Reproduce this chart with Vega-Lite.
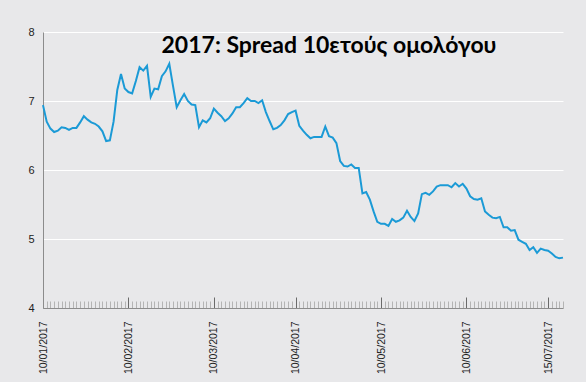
{
  "$schema": "https://vega.github.io/schema/vega-lite/v6.json",
  "autosize": {"type": "none"},
  "width": 520,
  "height": 276,
  "padding": {"left": 43, "top": 32, "right": 23, "bottom": 74},
  "background": "#e8e8ea",
  "title": {
    "text": "2017: Spread 10ετούς ομολόγου",
    "anchor": "middle",
    "frame": "group",
    "dx": 26,
    "dy": 27,
    "offset": -23,
    "baseline": "alphabetic",
    "font": "Lato",
    "fontSize": 23,
    "fontWeight": 700,
    "color": "#000000"
  },
  "config": {"view": {"stroke": null}},
  "data": {
    "values": [
      {"d": "10/01/2017", "v": 6.94}, {"d": "11/01/2017", "v": 6.70}, {"d": "12/01/2017", "v": 6.60}, {"d": "13/01/2017", "v": 6.55},
      {"d": "16/01/2017", "v": 6.57}, {"d": "17/01/2017", "v": 6.62}, {"d": "18/01/2017", "v": 6.61}, {"d": "19/01/2017", "v": 6.58},
      {"d": "20/01/2017", "v": 6.61}, {"d": "23/01/2017", "v": 6.61}, {"d": "24/01/2017", "v": 6.69}, {"d": "25/01/2017", "v": 6.78},
      {"d": "26/01/2017", "v": 6.73}, {"d": "27/01/2017", "v": 6.69}, {"d": "30/01/2017", "v": 6.67}, {"d": "31/01/2017", "v": 6.63},
      {"d": "01/02/2017", "v": 6.56}, {"d": "02/02/2017", "v": 6.42}, {"d": "03/02/2017", "v": 6.43}, {"d": "06/02/2017", "v": 6.70},
      {"d": "07/02/2017", "v": 7.16}, {"d": "08/02/2017", "v": 7.39}, {"d": "09/02/2017", "v": 7.18}, {"d": "10/02/2017", "v": 7.13},
      {"d": "13/02/2017", "v": 7.11}, {"d": "14/02/2017", "v": 7.29}, {"d": "15/02/2017", "v": 7.49}, {"d": "16/02/2017", "v": 7.44},
      {"d": "17/02/2017", "v": 7.51}, {"d": "18/02/2017", "v": 7.06}, {"d": "20/02/2017", "v": 7.18}, {"d": "21/02/2017", "v": 7.17},
      {"d": "22/02/2017", "v": 7.36}, {"d": "23/02/2017", "v": 7.43}, {"d": "24/02/2017", "v": 7.54}, {"d": "25/02/2017", "v": 7.22},
      {"d": "27/02/2017", "v": 6.91}, {"d": "28/02/2017", "v": 7.01}, {"d": "01/03/2017", "v": 7.10}, {"d": "02/03/2017", "v": 7.00},
      {"d": "03/03/2017", "v": 6.95}, {"d": "04/03/2017", "v": 6.94}, {"d": "06/03/2017", "v": 6.62}, {"d": "07/03/2017", "v": 6.72},
      {"d": "08/03/2017", "v": 6.69}, {"d": "09/03/2017", "v": 6.75}, {"d": "10/03/2017", "v": 6.89}, {"d": "13/03/2017", "v": 6.83},
      {"d": "14/03/2017", "v": 6.78}, {"d": "15/03/2017", "v": 6.71}, {"d": "16/03/2017", "v": 6.75}, {"d": "17/03/2017", "v": 6.82},
      {"d": "18/03/2017", "v": 6.91}, {"d": "20/03/2017", "v": 6.91}, {"d": "21/03/2017", "v": 6.97}, {"d": "22/03/2017", "v": 7.04},
      {"d": "23/03/2017", "v": 7.00}, {"d": "24/03/2017", "v": 7.00}, {"d": "27/03/2017", "v": 6.97}, {"d": "28/03/2017", "v": 7.01},
      {"d": "29/03/2017", "v": 6.84}, {"d": "30/03/2017", "v": 6.71}, {"d": "31/03/2017", "v": 6.59}, {"d": "03/04/2017", "v": 6.61},
      {"d": "04/04/2017", "v": 6.65}, {"d": "05/04/2017", "v": 6.72}, {"d": "06/04/2017", "v": 6.81}, {"d": "07/04/2017", "v": 6.84},
      {"d": "10/04/2017", "v": 6.86}, {"d": "11/04/2017", "v": 6.64}, {"d": "12/04/2017", "v": 6.57}, {"d": "13/04/2017", "v": 6.51},
      {"d": "14/04/2017", "v": 6.46}, {"d": "17/04/2017", "v": 6.48}, {"d": "18/04/2017", "v": 6.48}, {"d": "19/04/2017", "v": 6.48},
      {"d": "20/04/2017", "v": 6.63}, {"d": "21/04/2017", "v": 6.49}, {"d": "22/04/2017", "v": 6.47}, {"d": "24/04/2017", "v": 6.39},
      {"d": "25/04/2017", "v": 6.13}, {"d": "26/04/2017", "v": 6.06}, {"d": "27/04/2017", "v": 6.05}, {"d": "28/04/2017", "v": 6.08},
      {"d": "02/05/2017", "v": 6.03}, {"d": "03/05/2017", "v": 6.03}, {"d": "04/05/2017", "v": 5.66}, {"d": "05/05/2017", "v": 5.68},
      {"d": "06/05/2017", "v": 5.57}, {"d": "08/05/2017", "v": 5.40}, {"d": "09/05/2017", "v": 5.25}, {"d": "10/05/2017", "v": 5.22},
      {"d": "11/05/2017", "v": 5.22}, {"d": "12/05/2017", "v": 5.19}, {"d": "15/05/2017", "v": 5.29}, {"d": "16/05/2017", "v": 5.25},
      {"d": "17/05/2017", "v": 5.27}, {"d": "18/05/2017", "v": 5.31}, {"d": "19/05/2017", "v": 5.41}, {"d": "22/05/2017", "v": 5.32},
      {"d": "23/05/2017", "v": 5.26}, {"d": "24/05/2017", "v": 5.37}, {"d": "25/05/2017", "v": 5.65}, {"d": "26/05/2017", "v": 5.67},
      {"d": "29/05/2017", "v": 5.64}, {"d": "30/05/2017", "v": 5.69}, {"d": "31/05/2017", "v": 5.76}, {"d": "01/06/2017", "v": 5.78},
      {"d": "02/06/2017", "v": 5.78}, {"d": "05/06/2017", "v": 5.78}, {"d": "06/06/2017", "v": 5.75}, {"d": "07/06/2017", "v": 5.81},
      {"d": "08/06/2017", "v": 5.76}, {"d": "09/06/2017", "v": 5.80}, {"d": "10/06/2017", "v": 5.73}, {"d": "13/06/2017", "v": 5.62},
      {"d": "14/06/2017", "v": 5.58}, {"d": "15/06/2017", "v": 5.57}, {"d": "16/06/2017", "v": 5.59}, {"d": "19/06/2017", "v": 5.40},
      {"d": "20/06/2017", "v": 5.35}, {"d": "21/06/2017", "v": 5.31}, {"d": "22/06/2017", "v": 5.30}, {"d": "23/06/2017", "v": 5.32},
      {"d": "26/06/2017", "v": 5.17}, {"d": "27/06/2017", "v": 5.17}, {"d": "28/06/2017", "v": 5.12}, {"d": "29/06/2017", "v": 5.13},
      {"d": "30/06/2017", "v": 4.99}, {"d": "03/07/2017", "v": 4.96}, {"d": "04/07/2017", "v": 4.93}, {"d": "05/07/2017", "v": 4.84},
      {"d": "06/07/2017", "v": 4.88}, {"d": "10/07/2017", "v": 4.80}, {"d": "11/07/2017", "v": 4.86}, {"d": "12/07/2017", "v": 4.84},
      {"d": "15/07/2017", "v": 4.83}, {"d": "17/07/2017", "v": 4.79}, {"d": "18/07/2017", "v": 4.74}, {"d": "19/07/2017", "v": 4.72},
      {"d": "20/07/2017", "v": 4.73}
    ]
  },
  "mark": {"type": "line", "color": "#1b9ad6", "strokeWidth": 2},
  "encoding": {
    "x": {
      "field": "d",
      "type": "ordinal",
      "sort": null,
      "scale": {"type": "point", "padding": 0},
      "axis": {
        "title": null,
        "grid": false,
        "labelAngle": -90,
        "labelOverlap": false,
        "labelBound": false,
        "labelExpr": "indexof(['10/01/2017','10/02/2017','10/03/2017','10/04/2017','10/05/2017','10/06/2017','15/07/2017'], datum.value) >= 0 ? datum.value : ''",
        "tickSize": {"condition": {"test": "indexof(['10/01/2017','10/02/2017','10/03/2017','10/04/2017','10/05/2017','10/06/2017','15/07/2017'], datum.value) >= 0", "value": -11}, "value": -7},
        "tickColor": {"condition": {"test": "indexof(['10/01/2017','10/02/2017','10/03/2017','10/04/2017','10/05/2017','10/06/2017','15/07/2017'], datum.value) >= 0", "value": "#6a6a6a"}, "value": "#b4b4b4"},
        "tickWidth": 1,
        "domainColor": "#8c8c8c",
        "labelPadding": 24,
        "labelFont": "Liberation Sans",
        "labelFontSize": 10.5,
        "labelColor": "#222222"
      }
    },
    "y": {
      "field": "v",
      "type": "quantitative",
      "scale": {"domain": [4, 8]},
      "axis": {
        "title": null,
        "values": [4, 5, 6, 7, 8],
        "grid": true,
        "gridColor": "#ffffff",
        "gridWidth": 1,
        "ticks": false,
        "domainColor": "#8c8c8c",
        "labelPadding": 9,
        "labelFont": "Liberation Sans",
        "labelFontSize": 11,
        "labelColor": "#222222"
      }
    }
  }
}
